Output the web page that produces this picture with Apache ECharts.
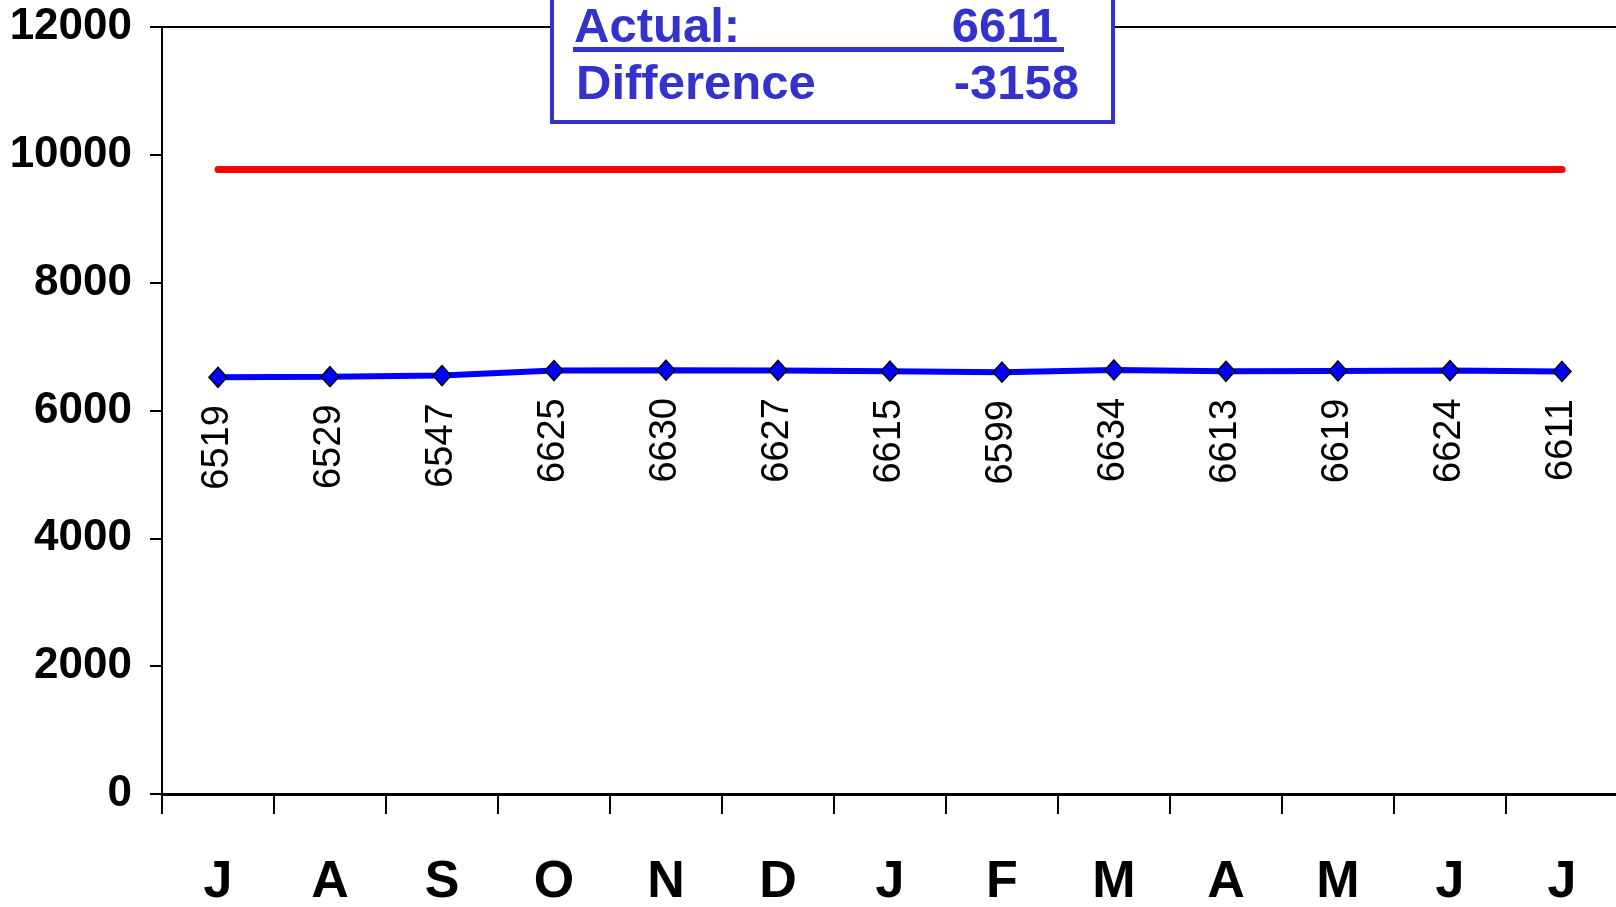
<!DOCTYPE html>
<html>
<head>
<meta charset="utf-8">
<script src="https://cdn.jsdelivr.net/npm/echarts@6/dist/echarts.min.js"></script>
<style>
html,body{margin:0;padding:0;background:#fff;}
#chart{width:1616px;height:907px;}
</style>
</head>
<body>
<div id="chart"></div>
<script>
const months = ['J','A','S','O','N','D','J','F','M','A','M','J','J'];
const actualValues = [6519,6529,6547,6625,6630,6627,6615,6599,6634,6613,6619,6624,6611];
const targetValues = [9769,9769,9769,9769,9769,9769,9769,9769,9769,9769,9769,9769,9769];
const yTicks = {min:0, max:12000, interval:2000};
const boxLabels = ['Actual:', 'Difference'];

const lastActual = actualValues[actualValues.length-1];
const lastDiff = lastActual - targetValues[targetValues.length-1];
const blue = '#3333cc';
const FONT = '"Liberation Sans", Arial, sans-serif';

const chart = echarts.init(document.getElementById('chart'), null, {renderer:'canvas'});
chart.setOption({
  animation:false,
  backgroundColor:'#fff',
  grid:{left:162, top:27, width:1456, height:767, show:true, borderColor:'#000', borderWidth:2,
    containLabel:false, outerBoundsMode:'none'},
  xAxis:{
    type:'category', data:months, boundaryGap:true,
    axisLine:{show:true, lineStyle:{color:'#000', width:3}},
    axisTick:{show:true, length:20, interval:0, alignWithLabel:false, lineStyle:{color:'#000', width:2}},
    axisLabel:{interval:0, fontSize:52, fontWeight:'bold', color:'#000', fontFamily:FONT, margin:63},
    splitLine:{show:false}
  },
  yAxis:{
    type:'value', min:yTicks.min, max:yTicks.max, interval:yTicks.interval,
    axisLine:{show:true, lineStyle:{color:'#000', width:2}},
    axisTick:{show:true, length:12, inside:false, lineStyle:{color:'#000', width:2}},
    axisLabel:{fontSize:44, fontWeight:'bold', color:'#000', fontFamily:FONT, margin:30,
      formatter:function(v){return String(v);}},
    splitLine:{show:false}
  },
  series:[
    {
      name:'Target', type:'line', data:targetValues, symbol:'none', z:3,
      lineStyle:{color:'#ff0000', width:7, cap:'round'}
    },
    {
      name:'Actual', type:'line', data:actualValues, z:4,
      symbol:'diamond', symbolSize:[18,20],
      lineStyle:{color:'#0000ff', width:6},
      itemStyle:{color:'#0000ff', borderColor:'#000', borderWidth:1.5},
      label:{show:true, position:'bottom', rotate:90, align:'right', verticalAlign:'middle',
        distance:17, fontSize:38, color:'#000', fontFamily:FONT}
    }
  ],
  graphic:[
    {type:'rect', z:100, shape:{x:552, y:-10, width:561, height:132},
      style:{fill:'#fff', stroke:blue, lineWidth:4}},
    {type:'text', z:101, style:{x:574, y:28, text:boxLabels[0], font:'bold 49px '+FONT, fill:blue, textAlign:'left', textVerticalAlign:'middle'}},
    {type:'text', z:101, style:{x:1058, y:28, text:String(lastActual), font:'bold 49px '+FONT, fill:blue, textAlign:'right', textVerticalAlign:'middle'}},
    {type:'rect', z:101, shape:{x:573, y:47, width:491, height:5}, style:{fill:blue}},
    {type:'text', z:101, style:{x:576, y:85, text:boxLabels[1], font:'bold 49px '+FONT, fill:blue, textAlign:'left', textVerticalAlign:'middle'}},
    {type:'text', z:101, style:{x:1079, y:85, text:String(lastDiff), font:'bold 49px '+FONT, fill:blue, textAlign:'right', textVerticalAlign:'middle'}}
  ]
});
</script>
</body>
</html>
